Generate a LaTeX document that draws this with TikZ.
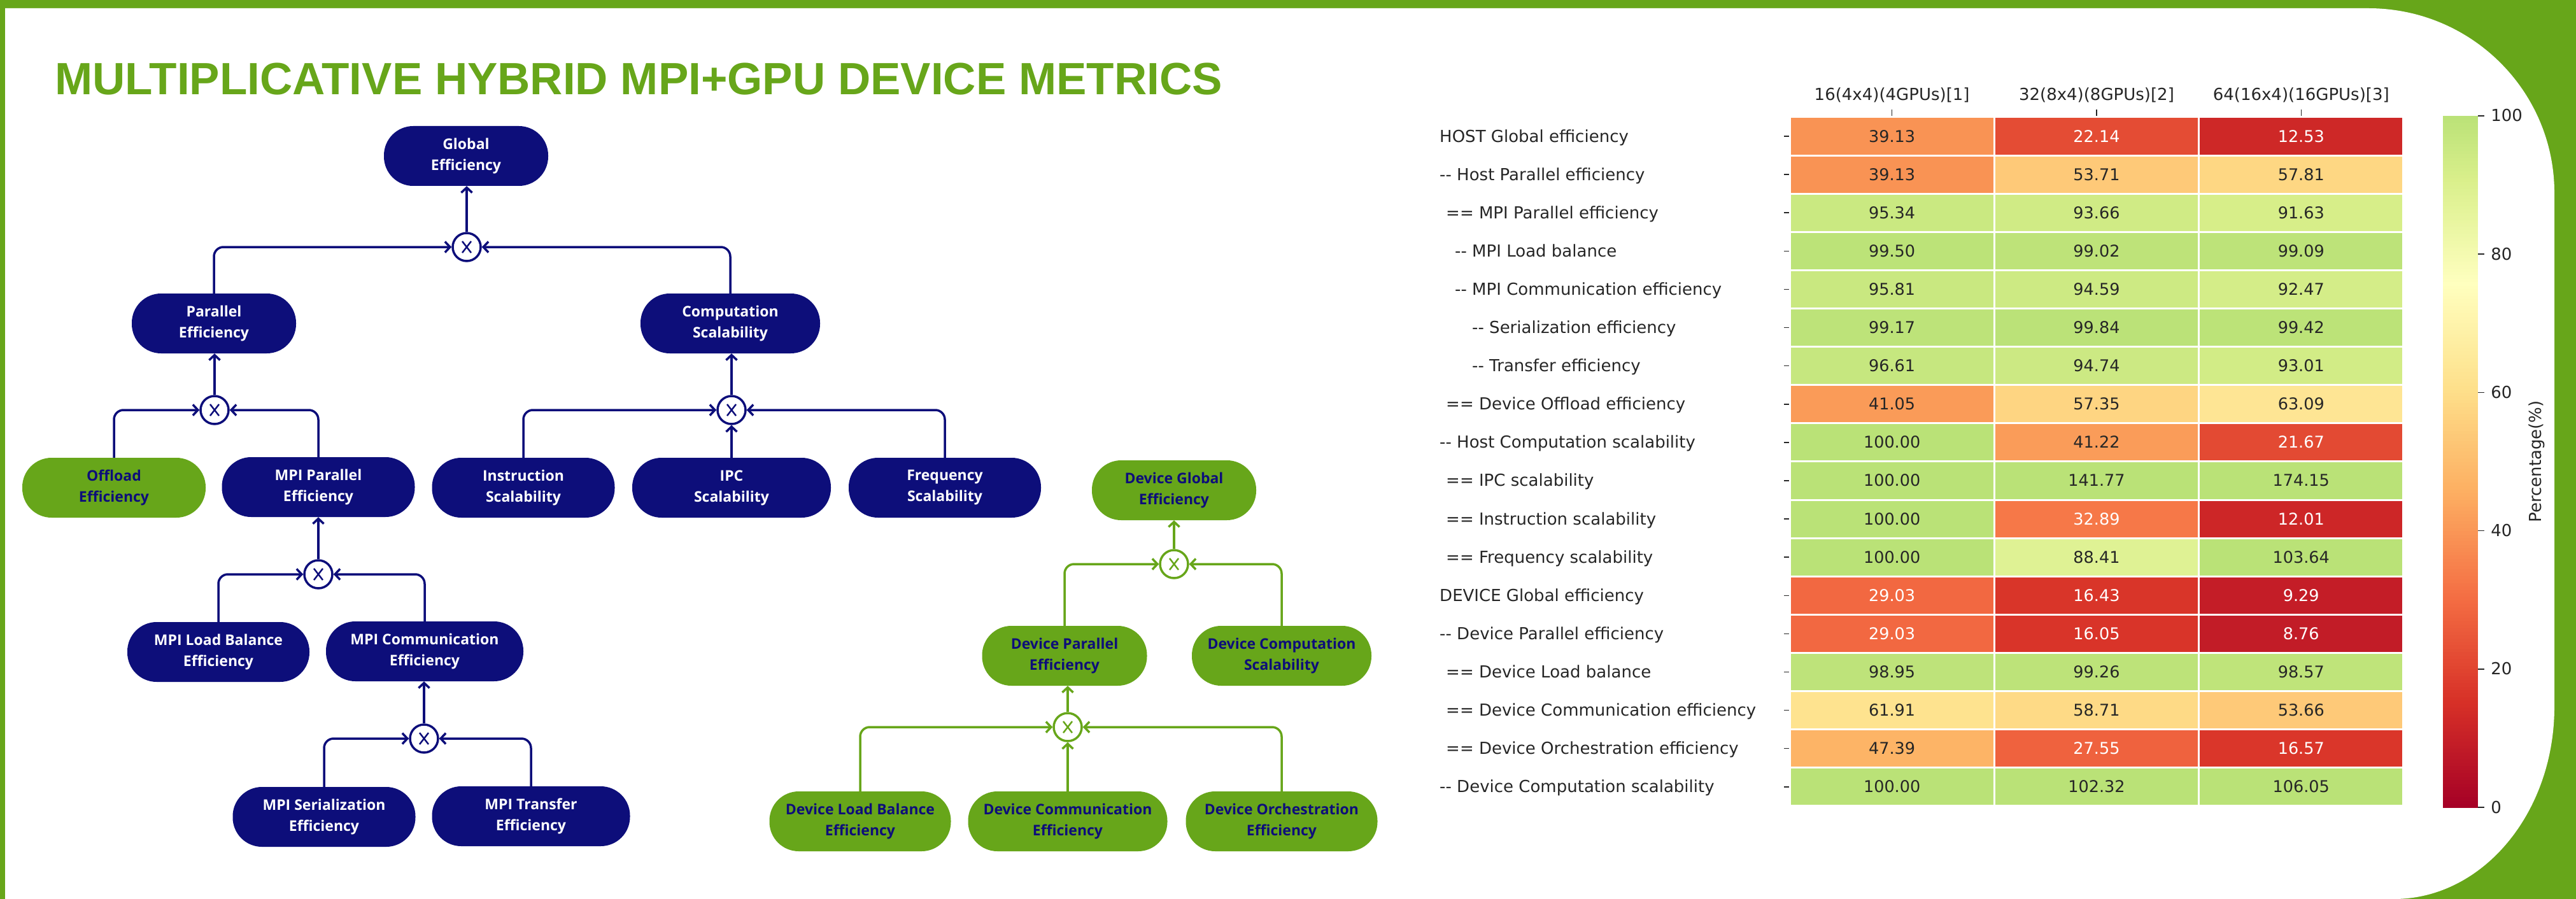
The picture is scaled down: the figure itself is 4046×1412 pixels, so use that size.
\documentclass[tikz,border=0pt]{standalone}
\usepackage{fontspec}
\usetikzlibrary{arrows.meta,positioning}
\setmainfont{Open Sans}
\newfontfamily\titlefont{Liberation Sans}
\newfontfamily\plotfont{DejaVu Sans}

\definecolor{frame}{RGB}{103,166,26}
\definecolor{navy}{RGB}{13,14,122}
\definecolor{ink}{RGB}{38,38,38}
% RdYlGn
\definecolor{rdylgn0}{HTML}{A50026}
\definecolor{rdylgn1}{HTML}{D73027}
\definecolor{rdylgn2}{HTML}{F46D43}
\definecolor{rdylgn3}{HTML}{FDAE61}
\definecolor{rdylgn4}{HTML}{FEE08B}
\definecolor{rdylgn5}{HTML}{FFFFBF}
\definecolor{rdylgn6}{HTML}{D9EF8B}
\definecolor{rdylgn7}{HTML}{A6D96A}
\definecolor{rdylgn8}{HTML}{66BD63}
\definecolor{rdylgn9}{HTML}{1A9850}
\definecolor{rdylgn10}{HTML}{006837}

\newcommand\heatcolor[1]{%
  \pgfmathsetmacro\heatu{min(#1,100)*0.066}%
  \pgfmathtruncatemacro\heati{\heatu}%
  \pgfmathtruncatemacro\heatj{\heati+1}%
  \pgfmathsetmacro\heatp{(\heatu-\heati)*100}%
  \colorlet{heat}{rdylgn\heatj!\heatp!rdylgn\heati}}

\tikzset{
  metric/.style={fill=navy, text=white, align=center, inner sep=0pt,
    font=\bfseries\fontsize{23}{33}\selectfont,
    rounded corners=46pt, minimum height=94pt},
  devmetric/.style={metric, fill=frame, text=navy},
  mult/.style={circle, draw=#1, fill=white, line width=3.5pt, minimum size=44pt, inner sep=0pt,
    path picture={\draw[#1, line width=2.5pt]
      ([shift={(-7pt,-9pt)}]path picture bounding box.center) -- ([shift={(7pt,9pt)}]path picture bounding box.center)
      ([shift={(-7pt,9pt)}]path picture bounding box.center) -- ([shift={(7pt,-9pt)}]path picture bounding box.center);}},
  feed/.style={-{Straight Barb[length=8pt,width=17pt]}, draw=#1, line width=3.5pt, rounded corners=15pt},
  plottext/.style={inner sep=0pt, text=ink, font=\plotfont\fontsize{26}{30}\selectfont},
}

\begin{document}
\begin{tikzpicture}[x=1pt, y=-1pt]
\useasboundingbox (0,0) rectangle (4046,1412);

% frame
\fill[frame] (0,0) rectangle (4046,1412);
\fill[white] (8,13) -- (3720,13) arc[start angle=90, end angle=0, x radius=292pt, y radius=290pt]
  -- (4012,1110) arc[start angle=0, end angle=-90, x radius=252pt, y radius=302pt] -- (8,1412) -- cycle;

\node[anchor=base west, inner sep=0pt, text=frame, font=\titlefont\bfseries\fontsize{71}{80}\selectfont]
  (title) at (86,149) {MULTIPLICATIVE HYBRID MPI+GPU DEVICE METRICS};

% host metrics
\foreach \n/\x/\y/\w/\t in {glob/732/245/258/{Global\\Efficiency}, par/336/508/258/{Parallel\\Efficiency},
    comp/1147/508/282/{Computation\\Scalability}, mpar/500/765/303/{MPI Parallel\\Efficiency},
    instr/822/766/287/{Instruction\\Scalability}, ipc/1149/766/312/{IPC\\Scalability},
    freq/1484/766/302/{Frequency\\Scalability}, mlb/343/1024/286/{MPI Load Balance\\Efficiency},
    mcomm/667/1023/310/{MPI Communication\\Efficiency}, mser/509/1283/287/{MPI Serialization\\Efficiency},
    mtr/834/1282/311/{MPI Transfer\\Efficiency}}
  \node[metric, minimum width=\w pt] (\n) at (\x,\y) {\t};

% device metrics
\foreach \n/\x/\y/\w/\t in {offl/179/766/288/{Offload\\Efficiency}, dglob/1844/770/258/{Device Global\\Efficiency},
    dpar/1672/1030/259/{Device Parallel\\Efficiency}, dcomp/2013/1030/282/{Device Computation\\Scalability},
    dlb/1351/1290/285/{Device Load Balance\\Efficiency}, dcomm/1677/1290/313/{Device Communication\\Efficiency},
    dorch/2013/1290/301/{Device Orchestration\\Efficiency}}
  \node[devmetric, minimum width=\w pt] (\n) at (\x,\y) {\t};

% products
\foreach \n/\x/\y in {gm/733/388, pm/337/644, cm/1149/644, mm/500/902, km/666/1160}
  \node[mult=navy] (\n) at (\x,\y) {};
\foreach \n/\x/\y in {dg/1844/886, dp/1677/1142}
  \node[mult=frame] (\n) at (\x,\y) {};

\foreach \a/\m/\s in {par/gm/west, comp/gm/east, offl/pm/west, mpar/pm/east, instr/cm/west, freq/cm/east,
    mlb/mm/west, mcomm/mm/east, mser/km/west, mtr/km/east}
  \draw[feed=navy] (\a.north) |- (\m.\s);
\foreach \m/\p in {gm/glob, pm/par, cm/comp, ipc/cm, mm/mpar, km/mcomm}
  \draw[feed=navy] (\m.north) -- (\m.north |- \p.south);
\foreach \a/\m/\s in {dpar/dg/west, dcomp/dg/east, dlb/dp/west, dorch/dp/east}
  \draw[feed=frame] (\a.north) |- (\m.\s);
\foreach \m/\p in {dg/dglob, dp/dpar, dcomm/dp}
  \draw[feed=frame] (\m.north) -- (\m.north |- \p.south);

% heat map
\foreach \h [count=\ci] in {{16(4x4)(4GPUs)[1]}, {32(8x4)(8GPUs)[2]}, {64(16x4)(16GPUs)[3]}}{
  \pgfmathsetmacro\xc{2811+(\ci-0.5)*321.3}
  \node[plottext, anchor=base] (head\ci) at (\xc,158) {\h};
  \draw[ink, line width=1.5pt] (\xc,172) -- (\xc,184);
}
\foreach \lab/\ind/\va/\vb/\vc [count=\ri] in {
    {HOST Global efficiency}/0/39.13/22.14/12.53,
    {-{}- Host Parallel efficiency}/0/39.13/53.71/57.81,
    {== MPI Parallel efficiency}/10/95.34/93.66/91.63,
    {-{}- MPI Load balance}/24/99.50/99.02/99.09,
    {-{}- MPI Communication efficiency}/24/95.81/94.59/92.47,
    {-{}- Serialization efficiency}/51/99.17/99.84/99.42,
    {-{}- Transfer efficiency}/51/96.61/94.74/93.01,
    {== Device Offload efficiency}/10/41.05/57.35/63.09,
    {-{}- Host Computation scalability}/0/100.00/41.22/21.67,
    {== IPC scalability}/10/100.00/141.77/174.15,
    {== Instruction scalability}/10/100.00/32.89/12.01,
    {== Frequency scalability}/10/100.00/88.41/103.64,
    {DEVICE Global efficiency}/0/29.03/16.43/9.29,
    {-{}- Device Parallel efficiency}/0/29.03/16.05/8.76,
    {== Device Load balance}/10/98.95/99.26/98.57,
    {== Device Communication efficiency}/10/61.91/58.71/53.66,
    {== Device Orchestration efficiency}/10/47.39/27.55/16.57,
    {-{}- Device Computation scalability}/0/100.00/102.32/106.05}{
  \pgfmathsetmacro\yc{184+(\ri-0.5)*60.1}
  \node[plottext, anchor=base west] (lab\ri) at (2261+\ind,\yc+9) {\lab};
  \draw[ink, line width=1.5pt] (2802,\yc) -- (2811,\yc);
  \foreach \v [count=\ci] in {\va,\vb,\vc}{
    \pgfmathsetmacro\xl{2811+(\ci-1)*321.3}
    \heatcolor{\v}
    \ifdim\v pt<35pt \def\tc{white}\else\def\tc{ink}\fi
    \filldraw[fill=heat, draw=white, line width=3pt] (\xl,\yc-30.05) rectangle ++(321.3,60.1);
    \node[plottext, anchor=base, text=\tc, font=\plotfont\fontsize{25.5}{30}\selectfont]
      (v\ri-\ci) at (\xl+160.65,\yc+9) {\v};
  }
}

% colour bar
\foreach \k in {0,...,199}{
  \heatcolor{\k/2+0.25}
  \fill[heat] (3837,{1268-(\k+1)*5.43}) rectangle (3892,{1268-\k*5.43+0.6});
}
\foreach \t in {0,20,...,100}{
  \draw[ink, line width=1.5pt] (3892,1268-\t*10.86) -- (3902,1268-\t*10.86);
  \node[plottext, anchor=base west] (tick\t) at (3912,1277-\t*10.86) {\t};
}
\node[plottext, rotate=90] (cblabel) at (3984,725) {Percentage(\%)};

\end{tikzpicture}
\end{document}
